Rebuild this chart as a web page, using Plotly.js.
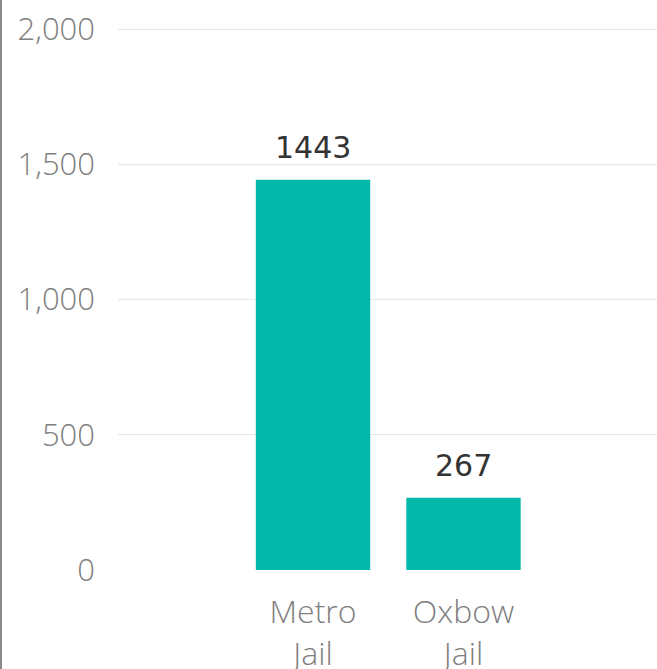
<!DOCTYPE html>
<html>
<head>
<meta charset="utf-8">
<script src="https://cdn.plot.ly/plotly-3.0.1.min.js"></script>
<style>
html, body { margin: 0; padding: 0; background: #fff; }
#chart { width: 657px; height: 669px; position: relative; }
#edge { position: absolute; left: 0; top: 0; width: 2px; height: 669px; background: #8a8a8a; z-index: 10; }
</style>
</head>
<body>
<div id="chart"><div id="edge"></div></div>
<script>
const categories = ["Metro<br>Jail", "Oxbow<br>Jail"];
const values = [1443, 267];
const yTickVals = [0, 500, 1000, 1500, 2000];
const yTickText = ["0", "500", "1,000", "1,500", "2,000"];

const trace = {
  type: "bar",
  x: categories,
  y: values,
  marker: { color: "#01B8AA" },
  hoverinfo: "none"
};

const annotations = categories.map((c, i) => ({
  x: c, y: values[i], xref: "x", yref: "y",
  text: String(values[i]),
  showarrow: false,
  yanchor: "bottom",
  yshift: 13,
  font: { family: "DejaVu Sans, sans-serif", size: 30, color: "#333333" }
}));

const layout = {
  width: 657, height: 669,
  margin: { l: 118, r: 0, t: 28, b: 99, pad: 0 },
  paper_bgcolor: "#ffffff",
  plot_bgcolor: "#ffffff",
  showlegend: false,
  bargap: 0.24,
  xaxis: {
    type: "category",
    range: [-1.296, 2.286],
    showgrid: false, zeroline: false, showline: false,
    ticks: "",
    ticklabelstandoff: 20,
    tickfont: { family: "Open Sans, sans-serif", size: 32, color: "#808080", weight: 300 }
  },
  yaxis: {
    range: [0, 2004],
    tickvals: yTickVals,
    ticktext: yTickText,
    showgrid: true, gridcolor: "#e6e6e6", gridwidth: 1,
    zeroline: false, showline: false,
    ticks: "",
    ticklabelstandoff: 22,
    tickfont: { family: "Open Sans, sans-serif", size: 31, color: "#808080", weight: 300 }
  },
  annotations: annotations
};

Plotly.newPlot("chart", [trace], layout, { staticPlot: true, displayModeBar: false });
</script>
</body>
</html>
